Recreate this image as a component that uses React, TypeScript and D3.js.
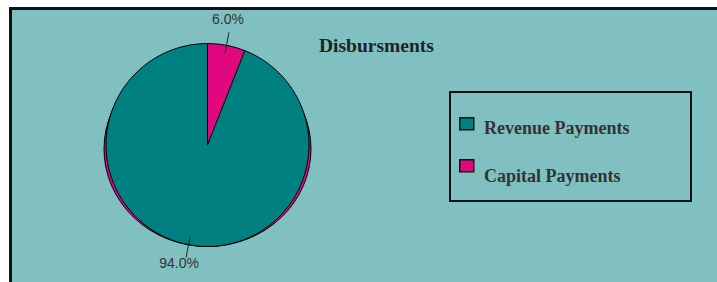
import { useEffect, useRef } from "react";
import * as d3 from "d3";

// Disbursments pie: share of payments by type (percent)
const categories = ["Revenue Payments", "Capital Payments"];
const shares = [94.0, 6.0];
const colors = ["#008080", "#e0077f"];
const title = "Disbursments";

type Slice = { category: string; share: number; color: string };

export default function App() {
  const svgRef = useRef<SVGSVGElement | null>(null);
  const width = 717;
  const height = 282;

  useEffect(() => {
    if (!svgRef.current) return;
    const svg = d3.select(svgRef.current);
    svg.selectAll("*").remove();

    const slices: Slice[] = categories.map((c, i) => ({
      category: c,
      share: shares[i],
      color: colors[i],
    }));

    // outer frame
    svg
      .append("rect")
      .attr("x", 10.5)
      .attr("y", 8.5)
      .attr("width", 800)
      .attr("height", 400)
      .attr("fill", "#80c0c0")
      .attr("stroke", "#111")
      .attr("stroke-width", 3);

    const cx = 207.5;
    const cy = 145;
    const r = 101.5;

    // pink rim peeking out below the pie (3d-ish depth)
    svg
      .append("ellipse")
      .attr("cx", cx)
      .attr("cy", cy + 4)
      .attr("rx", r + 2)
      .attr("ry", r - 4)
      .attr("fill", colors[1])
      .attr("stroke", "#000")
      .attr("stroke-width", 1);

    // Capital slice starts at 12 o'clock, so feed it first
    const ordered = [...slices].reverse();
    const pie = d3
      .pie<Slice>()
      .sort(null)
      .value((d) => d.share);
    const arcs = pie(ordered);
    const arc = d3.arc<d3.PieArcDatum<Slice>>().innerRadius(0).outerRadius(r);

    const g = svg.append("g").attr("transform", `translate(${cx},${cy})`);
    g.selectAll("path.slice")
      .data(arcs)
      .enter()
      .append("path")
      .attr("class", "slice")
      .attr("d", arc)
      .attr("fill", (d) => d.data.color)
      .attr("stroke", "#000")
      .attr("stroke-width", 1);

    // leader lines + labels
    const lineIn = d3.arc<d3.PieArcDatum<Slice>>().innerRadius(r * 0.92).outerRadius(r * 0.92);
    const lineOut = d3.arc<d3.PieArcDatum<Slice>>().innerRadius(r * 1.13).outerRadius(r * 1.13);
    arcs.forEach((a) => {
      const [x1, y1] = lineIn.centroid(a);
      const [x2, y2] = lineOut.centroid(a);
      g.append("line")
        .attr("x1", x1)
        .attr("y1", y1)
        .attr("x2", x2)
        .attr("y2", y2)
        .attr("stroke", "#222")
        .attr("stroke-width", 1);
      const top = y2 < 0;
      g.append("text")
        .attr("x", x2 + (top ? -1 : -7))
        .attr("y", y2 + (top ? -8.7 : 10))
        .attr("text-anchor", "middle")
        .attr("font-family", "Liberation Sans, Arial, sans-serif")
        .attr("font-size", 14)
        .attr("fill", "#333")
        .text(`${a.data.share.toFixed(1)}%`);
    });

    // title
    svg
      .append("text")
      .attr("x", 319)
      .attr("y", 52)
      .attr("font-family", "Liberation Serif, Times New Roman, serif")
      .attr("font-weight", "bold")
      .attr("font-size", 19.5)
      .attr("fill", "#222")
      .text(title);

    // legend
    svg
      .append("rect")
      .attr("x", 450)
      .attr("y", 92)
      .attr("width", 241)
      .attr("height", 109)
      .attr("fill", "none")
      .attr("stroke", "#111")
      .attr("stroke-width", 2);

    const legendY = d3.scaleOrdinal<string, number>().domain(categories).range([117.75, 159.75]);
    const leg = svg
      .selectAll("g.leg")
      .data(slices)
      .enter()
      .append("g")
      .attr("class", "leg");
    leg
      .append("rect")
      .attr("x", 459.75)
      .attr("y", (d) => legendY(d.category))
      .attr("width", 14)
      .attr("height", 12)
      .attr("fill", (d) => d.color)
      .attr("stroke", "#111")
      .attr("stroke-width", 1.5);
    leg
      .append("text")
      .attr("x", 484)
      .attr("y", (d, i) => legendY(d.category) + (i === 0 ? 15.75 : 22.25))
      .attr("font-family", "Liberation Serif, Times New Roman, serif")
      .attr("font-weight", "bold")
      .attr("font-size", 18)
      .attr("fill", "#333")
      .text((d) => d.category);
  }, []);

  return (
    <svg
      ref={svgRef}
      width={width}
      height={height}
      style={{ position: "absolute", left: 0, top: 0, background: "#fff" }}
    />
  );
}
